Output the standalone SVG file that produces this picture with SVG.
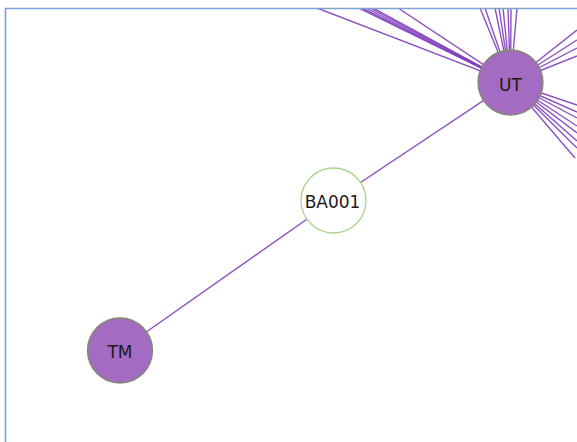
<svg xmlns="http://www.w3.org/2000/svg" width="577" height="442" viewBox="0 0 577 442">
<defs>
<style>
.e{stroke:#7f3dbb;stroke-width:1.4;fill:none;stroke-opacity:0.9}
.np{fill:#a36cc2;stroke:#7f8c6c;stroke-width:1.3}
.nw{fill:#ffffff;stroke:#a8d58e;stroke-width:1.3}
.t{font-family:"DejaVu Sans",sans-serif;font-size:17px;fill:#1a1a1a;text-anchor:middle}
</style>
<clipPath id="c"><rect x="5" y="8" width="580" height="440"/></clipPath>
</defs>
<rect x="0" y="0" width="577" height="442" fill="#ffffff"/>
<g id="connectors" clip-path="url(#c)">
<line class="e" x1="510.5" y1="82.5" x2="317" y2="8"/>
<line class="e" x1="510.5" y1="82.5" x2="359" y2="8"/>
<line class="e" x1="510.5" y1="82.5" x2="362" y2="8"/>
<line class="e" x1="510.5" y1="82.5" x2="366" y2="8"/>
<line class="e" x1="510.5" y1="82.5" x2="370" y2="8"/>
<line class="e" x1="510.5" y1="82.5" x2="373" y2="8"/>
<line class="e" x1="510.5" y1="82.5" x2="398" y2="8"/>
<line class="e" x1="510.5" y1="82.5" x2="480" y2="8"/>
<line class="e" x1="510.5" y1="82.5" x2="485" y2="8"/>
<line class="e" x1="510.5" y1="82.5" x2="495" y2="8"/>
<line class="e" x1="510.5" y1="82.5" x2="499" y2="8"/>
<line class="e" x1="510.5" y1="82.5" x2="503" y2="8"/>
<line class="e" x1="510.5" y1="82.5" x2="508" y2="8"/>
<line class="e" x1="510.5" y1="82.5" x2="511" y2="8"/>
<line class="e" x1="510.5" y1="82.5" x2="517" y2="8"/>
<line class="e" x1="510.5" y1="82.5" x2="577" y2="30"/>
<line class="e" x1="510.5" y1="82.5" x2="577" y2="40"/>
<line class="e" x1="510.5" y1="82.5" x2="577" y2="48"/>
<line class="e" x1="510.5" y1="82.5" x2="577" y2="56"/>
<line class="e" x1="510.5" y1="82.5" x2="577" y2="105"/>
<line class="e" x1="510.5" y1="82.5" x2="577" y2="112"/>
<line class="e" x1="510.5" y1="82.5" x2="577" y2="118"/>
<line class="e" x1="510.5" y1="82.5" x2="577" y2="126"/>
<line class="e" x1="510.5" y1="82.5" x2="577" y2="133"/>
<line class="e" x1="510.5" y1="82.5" x2="577" y2="141"/>
<line class="e" x1="510.5" y1="82.5" x2="577" y2="148"/>
<line class="e" x1="510.5" y1="82.5" x2="575" y2="158"/>
<line class="e" x1="510.5" y1="82.5" x2="333.5" y2="200.5"/>
<line class="e" x1="333.5" y1="200.5" x2="120" y2="350.5"/>
</g>
<path d="M5.5,442 V8.5 H577" fill="none" stroke="#7ba3d6" stroke-width="1.6"/>
<g id="UT"><circle class="np" cx="510.5" cy="82.5" r="32.5"/><text class="t" x="510.5" y="91">UT</text></g>
<g id="BA001"><circle class="nw" cx="333.5" cy="200.5" r="32.5"/><text class="t" x="332.5" y="208">BA001</text></g>
<g id="TM"><circle class="np" cx="120" cy="350.5" r="32.5"/><text class="t" x="120" y="358">TM</text></g>
</svg>
